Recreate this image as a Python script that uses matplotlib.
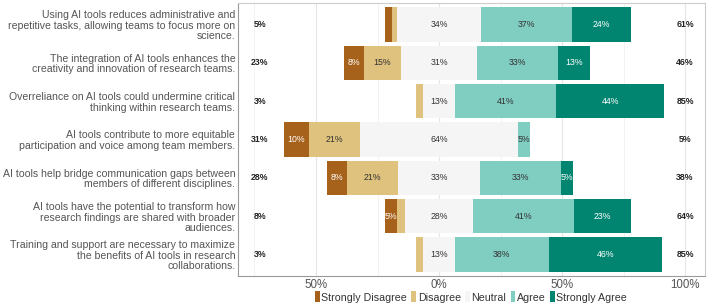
import numpy as np
import matplotlib.pyplot as plt
from matplotlib.patches import Patch

plt.rcParams['font.family'] = ['Liberation Sans', 'DejaVu Sans']

# ---- data ----
items = [
    "Using AI tools reduces administrative and\nrepetitive tasks, allowing teams to focus more on\nscience.",
    "The integration of AI tools enhances the\ncreativity and innovation of research teams.",
    "Overreliance on AI tools could undermine critical\nthinking within research teams.",
    "AI tools contribute to more equitable\nparticipation and voice among team members.",
    "AI tools help bridge communication gaps between\nmembers of different disciplines.",
    "AI tools have the potential to transform how\nresearch findings are shared with broader\naudiences.",
    "Training and support are necessary to maximize\nthe benefits of AI tools in research\ncollaborations.",
]
levels = ["Strongly Disagree", "Disagree", "Neutral", "Agree", "Strongly Agree"]
strongly_disagree = [3, 8, 0, 10, 8, 5, 0]
disagree = [2, 15, 3, 21, 21, 3, 3]
neutral = [34, 31, 13, 64, 33, 28, 13]
agree = [37, 33, 41, 5, 33, 41, 38]
strongly_agree = [24, 13, 44, 0, 5, 23, 46]
low_pct = [5, 23, 3, 31, 28, 8, 3]
high_pct = [61, 46, 85, 5, 38, 64, 85]

colors = ["#A6611A", "#DFC27D", "#F5F5F5", "#80CDC1", "#018571"]
text_colors = ["white", "#333333", "#333333", "#333333", "white"]

# ---- plot ----
fig = plt.figure(figsize=(7.08, 3.07), dpi=100)
ax = fig.add_axes([238 / 708, 1 - 276 / 307, (705 - 238) / 708, (276 - 3) / 307])

data = np.array([strongly_disagree, disagree, neutral, agree, strongly_agree], dtype=float)
y = np.arange(len(items))
start = -(data[0] + data[1] + data[2] / 2)

ax.set_axisbelow(True)
for v in [-75, -25, 25, 75]:
    ax.axvline(v, color="#f0f0f0", lw=0.6, zorder=0)
for v in [-50, 0, 50, 100]:
    ax.axvline(v, color="#e6e6e6", lw=0.8, zorder=0)

left = start.copy()
for k in range(5):
    ax.barh(y, data[k], left=left, height=0.9, color=colors[k], zorder=2)
    for i in range(len(items)):
        if data[k, i] >= 5:
            ax.text(left[i] + data[k, i] / 2, y[i], f"{int(data[k, i])}%",
                    ha="center", va="center", fontsize=6.3, color=text_colors[k], zorder=3)
    left = left + data[k]

for i in range(len(items)):
    ax.text(-72.8, y[i], f"{low_pct[i]}%", ha="center", va="center",
            fontsize=6.3, fontweight="bold", color="#222222")
    ax.text(100, y[i], f"{high_pct[i]}%", ha="center", va="center",
            fontsize=6.3, fontweight="bold", color="#222222")

ax.set_xlim(-81.7, 108.1)
ax.set_ylim(len(items) - 0.44, -0.56)
ax.set_yticks(y)
ax.set_yticklabels(items, fontsize=7.6, color="#555555", linespacing=1.08)
ax.set_xticks([-50, 0, 50, 100])
ax.set_xticklabels(["50%", "0%", "50%", "100%"], fontsize=8.3, color="#555555")
ax.tick_params(axis="both", length=0, pad=2)
for s in ax.spines.values():
    s.set_color("#9a9a9a")
    s.set_linewidth(0.8)
ax.spines["top"].set_color("#cccccc")
ax.spines["right"].set_color("#cccccc")

handles = [Patch(facecolor=c, edgecolor="none") for c in colors]
fig.legend(handles, levels, loc="center", bbox_to_anchor=(471 / 708, 1 - 297 / 307),
           ncol=5, frameon=False, fontsize=7.7, handlelength=0.45, handleheight=1.2,
           handletextpad=0.15, columnspacing=0.4, labelcolor="#333333")

fig.savefig("out.png", dpi=100)
